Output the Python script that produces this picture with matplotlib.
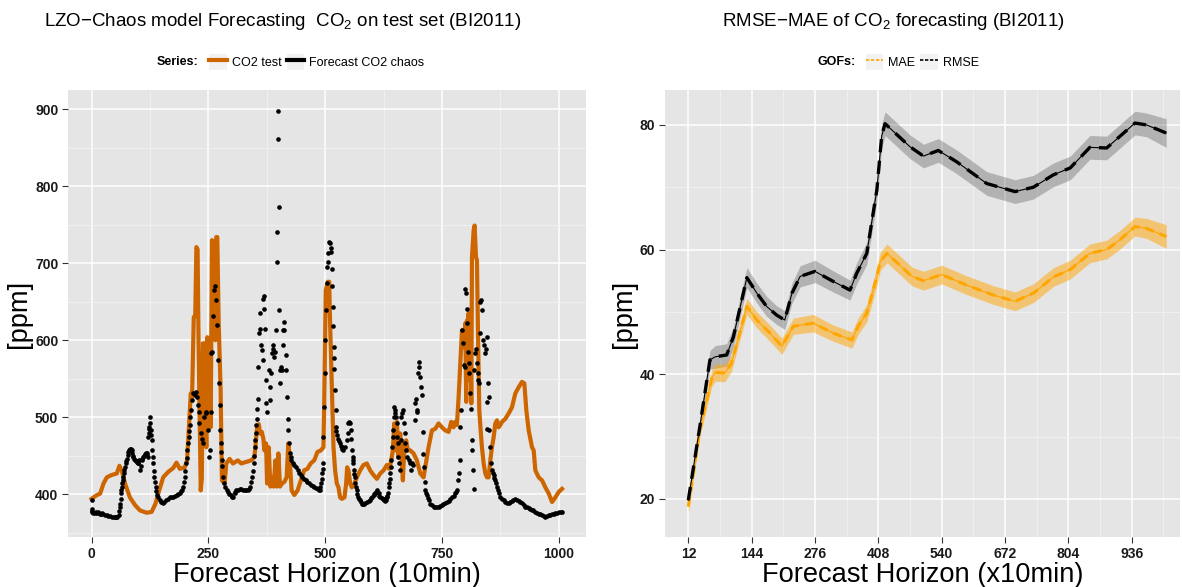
import matplotlib
matplotlib.use("Agg")
import matplotlib.pyplot as plt
from matplotlib.lines import Line2D
from matplotlib.patches import Patch
from matplotlib.legend_handler import HandlerTuple

plt.rcParams['font.family'] = ['Liberation Sans', 'DejaVu Sans']
plt.rcParams['mathtext.fontset'] = 'custom'
plt.rcParams['mathtext.rm'] = 'Liberation Sans'

# ---- left panel: CO2 test series (line) and chaos forecast (points)
test_x = [0, 9, 18.5, 25.6, 32.7, 43, 54, 59.7, 64.6, 71.7, 82, 93, 103.7, 118, 128.5, 137, 142.8, 153.4,
          164, 174.7, 181.8, 189, 199.6, 204.5, 208, 212.4, 215.2, 218.8, 222, 224.4, 227, 229, 231, 233.7,
          236, 238.6, 242.2, 244, 245.7, 247.9, 250, 252.8, 255, 257.8, 261, 263.5, 265, 267, 269.2, 272,
          276.3, 279.1, 284.8, 288.4, 295.5, 302.6, 313.2, 320.3, 331, 341.6, 348.7, 354.4, 358, 360.8,
          364.3, 367.9, 370, 373.6, 375.7, 379.3, 382.8, 386.4, 389.9, 393.5, 397, 399.9, 403.4, 407.7,
          412.6, 417.6, 421.2, 424, 428.3, 434, 441, 448, 455, 462, 469, 476.6, 483.7, 490.8, 496.4, 497.9,
          501.4, 505.7, 508.6, 510.7, 514.3, 517.9, 521.4, 525, 528.6, 532, 535.7, 541.4, 545, 547.1, 550,
          553.6, 557.1, 562.9, 567.9, 575, 582.1, 589.3, 596.4, 603.6, 610.7, 617.9, 625, 632.1, 637.1,
          641.4, 645, 647.9, 651.4, 653.6, 657.1, 660.7, 664.3, 666.4, 670, 673.6, 677.1, 682.1, 689.3,
          696.4, 703.6, 710.7, 715.7, 721.4, 728.6, 735.7, 742.9, 750, 757.1, 764.3, 770, 775, 778.6,
          782.1, 785.7, 789.3, 792.9, 796.4, 800, 802, 803.6, 805, 807.1, 808.6, 810.7, 812.9, 814.3,
          817.9, 820, 822.9, 825, 827.1, 830, 832.9, 835.7, 839.3, 842.9, 846.4, 850, 853.6, 857.1,
          860.7, 864.3, 867.9, 871.4, 875, 878.6, 885.7, 892.9, 900, 907.1, 914.3, 921.4, 926.4, 930.7,
          935.7, 942.9, 946.4, 950, 957.1, 964.3, 971.4, 978.6, 985.7, 992.9, 1000, 1007.1]
test_y = [394, 398, 401, 414, 422, 425, 427, 437, 431, 414, 396, 386, 379, 376, 377, 388, 401, 422,
          429, 434, 441, 433, 435, 444, 483, 531, 526, 630, 632, 721, 718, 600, 520, 405,
          420, 596, 596, 520, 461, 604, 560, 600, 487, 730, 728, 650, 600, 734, 734, 626,
          535, 418, 414, 440, 446, 440, 444, 440, 442, 444, 448, 487, 491, 479,
          481, 472, 457, 466, 414, 461, 410, 422, 410, 444, 410, 453, 410, 414,
          416, 422, 466, 448, 405, 399, 405, 418, 431, 433, 440, 444, 455, 457, 461, 513,
          665, 676, 676, 622, 544, 461, 431, 414, 409, 396, 394, 396, 414, 435, 431,
          414, 409, 414, 422, 431, 438, 440, 431, 425, 420, 427, 431, 438, 433,
          444, 457, 492, 457, 494, 448, 479, 440, 418, 466, 470, 457, 457, 453,
          444, 427, 422, 440, 461, 483, 485, 492, 487, 483, 481, 494, 487, 494,
          490, 526, 570, 613, 591, 622, 520, 626, 600, 635, 548, 613, 518, 708,
          743, 749, 708, 704, 613, 509, 483, 461, 440, 427, 422, 422, 444, 461,
          474, 492, 496, 487, 490, 494, 498, 505, 513, 531, 539, 546, 544, 509,
          483, 461, 457, 431, 422, 418, 409, 401, 390, 396, 403, 407]

chaos_x = [0, 0.5, 1, 4, 11, 18, 22, 29, 40, 50, 55, 58, 61, 63, 66, 68, 72, 75, 79, 82, 86, 89, 93, 97,
           100, 102, 104, 107, 111, 114, 118, 120, 121, 124, 125, 127, 129, 130, 132, 134, 137, 141, 146,
           153, 160, 168, 178, 189, 196, 200, 203, 205, 208, 210, 212, 215, 218, 221, 223, 225, 227, 229,
           231, 234, 236, 239, 241, 244, 246, 249, 251, 254, 255, 256, 258, 261, 262, 264, 266, 268, 270,
           272, 274, 276, 277, 279, 282, 286, 292, 298, 303, 306, 310, 317, 324, 334, 340, 344, 347, 349,
           352, 354, 356, 357, 359, 360, 361, 363, 364, 366, 367, 369, 369.5, 371, 373, 374, 376, 379, 381,
           383, 385, 386, 388, 389, 391, 393, 395, 396, 397.5, 398.5, 399, 400.5, 401.5, 403, 404, 405.5,
           407, 409, 410.5, 411, 413, 415.5, 417, 418, 420, 421, 423, 424, 428, 434, 441, 448, 455, 462,
           470, 477, 484, 489, 492, 494, 496, 496.5, 498, 499, 500, 501.5, 503, 504, 506, 507, 508.5,
           510.5, 513, 514, 515.7, 516.4, 517, 518.6, 520, 521.4, 522.5, 523.6, 525.7, 528.6, 532, 535.7,
           537, 539.3, 543, 546.4, 548, 550, 551.5, 553.6, 555.7, 556.4, 557, 558.6, 560, 561.4, 563,
           564.3, 568, 571.4, 575, 578.6, 582, 585.7, 593, 600, 603.6, 607, 610.7, 614.3, 618, 621, 625,
           628.6, 632, 634, 635.7, 638, 640, 641.4, 643, 644.3, 645.7, 646.5, 647, 648.6, 650, 651.4, 653,
           654.3, 655.7, 657, 658.6, 660, 661.4, 663, 664.3, 665.7, 668, 670, 671.4, 673.6, 675.7, 678.6,
           680.7, 683, 685.7, 688.6, 691.4, 693, 694.3, 695.7, 697, 698.6, 700, 701.4, 703.6, 705, 706.4,
           708.6, 710, 711.4, 713, 714.3, 718, 721.4, 728.6, 735.7, 743, 750, 757, 764.3, 771.4, 778.6,
           782, 784.3, 785.7, 788, 789.3, 791.4, 792.9, 795, 796.4, 798.6, 800, 801.4, 802.9, 804.3,
           805.7, 807.1, 808.6, 810, 811.4, 813.6, 815, 816.4, 817.9, 819.3, 821.4, 822.9, 825, 826.4,
           827.9, 829.3, 830.7, 832.1, 833.6, 835.7, 837.1, 839.3, 841.4, 844.3, 846.4, 847, 845.7, 848.6,
           850, 851.4, 853.6, 855, 857.1, 860.7, 864.3, 868, 871.4, 878.6, 885.7, 893, 900, 907, 914.3,
           921.4, 928.6, 935.7, 943, 950, 957, 964.3, 971.4, 978.6, 985.7, 993, 1000, 1007,
           # denser readings along the smooth stretches
           2, 7, 9, 14, 16, 20, 25, 33, 36, 44, 47, 52,
           59, 60, 62, 64, 65, 67, 69, 70, 73, 74, 77, 80, 84, 87, 88, 91, 95, 99, 105, 109, 112, 116, 119,
           122, 123, 126, 128, 131, 133, 135, 139, 143, 149, 156, 164, 172, 175, 183, 186, 192, 194, 198,
           201, 204, 207, 209, 211,
           278, 280, 284, 289, 295, 300, 308, 313, 320, 328, 331, 337, 342, 345, 348, 350, 353, 355,
           426, 431, 437, 444, 451, 458, 466, 473, 480, 486, 490, 493, 495,
           512, 519, 524, 530, 534,
           559, 562, 566, 569, 573, 577, 580, 584, 589, 596, 598, 605, 609, 612, 616, 623, 627, 630, 633,
           637, 639,
           716, 720, 725, 732, 739, 746, 753, 761, 768, 775, 780,
           859, 862, 866, 870, 875, 882, 889, 896, 903, 911, 918, 925, 932, 939, 946, 953, 961, 968, 975,
           982, 989, 996, 1004]
chaos_y = [393, 381, 378, 376, 376, 375, 376, 373, 372, 371, 371, 373, 388, 401, 414, 422, 435, 446, 455,
           459, 457, 448, 444, 442, 440, 444, 431, 444, 448, 452, 454, 448, 474, 487, 500, 483, 470, 457,
           440, 422, 410, 399, 392, 389, 392, 396, 398, 401, 410, 422, 440, 457, 474, 490, 509, 522, 531,
           529, 533, 526, 516, 507, 492, 479, 472, 466, 500, 506, 507, 483, 448, 457, 507, 583, 585, 632,
           665, 671, 652, 620, 574, 544, 516, 483, 466, 444, 422, 410, 403, 399, 396, 401, 405, 407, 406,
           405, 410, 422, 440, 462, 479, 498, 524, 565, 609, 635, 615, 594, 587, 574, 654, 658, 641, 615,
           548, 518, 507, 561, 539, 522, 557, 583, 594, 589, 578, 585, 613, 702, 741, 861, 898, 773, 639,
           561, 544, 565, 561, 594, 613, 624, 613, 581, 561, 526, 498, 483, 466, 453, 444, 438, 431, 425,
           420, 416, 412, 410, 407, 405, 414, 427, 440, 474, 513, 557, 600, 639, 674, 695, 713, 702, 728,
           726, 715, 693, 671, 643, 619, 591, 563, 535, 509, 487, 477, 472, 466, 461, 459, 457, 461, 470,
           479, 492, 494, 492, 483, 472, 457, 448, 440, 431, 422, 414, 405, 396, 392, 388, 387, 389, 391,
           396, 399, 401, 405, 401, 396, 395, 394, 391, 396, 401, 410, 420, 435, 444, 461, 474, 483, 500,
           513, 509, 505, 500, 492, 474, 466, 448, 440, 431, 470, 500, 505, 509, 492, 479, 466, 457, 448,
           444, 440, 431, 440, 438, 496, 518, 524, 507, 509, 557, 565, 572, 552, 539, 529, 481, 452, 435,
           416, 405, 399, 392, 386, 383, 384, 386, 389, 391, 396, 401, 405, 418, 427, 444, 487, 509, 613,
           596, 568, 565, 667, 661, 641, 622, 585, 570, 557, 531, 511, 470, 457, 431, 407, 561, 583, 589,
           570, 557, 548, 544, 609, 650, 652, 639, 600, 594, 583, 589, 604, 520, 485, 544, 526, 483, 462,
           440, 431, 425, 418, 410, 401, 394, 390, 389, 391, 394, 391, 389, 384, 382, 380, 377, 375, 373,
           371, 373, 374, 376, 377, 377,
           377, 376, 377, 377, 376, 375, 374, 373, 372, 371, 370, 371,
           378, 383, 394, 406, 410, 418, 427, 431, 440, 443, 451, 457, 459, 453, 450, 446, 443, 441, 437,
           446, 450, 453, 451, 480, 485, 492, 477, 448, 430, 416, 404, 396, 390, 390, 394, 397, 397, 399,
           400, 404, 406, 416, 430, 447, 466, 482, 500,
           455, 437, 415, 406, 400, 397, 403, 406, 407, 406, 405, 407, 416, 430, 450, 470, 490, 511,
           448, 441, 435, 428, 422, 418, 414, 411, 408, 406, 409, 420, 433,
           720, 577, 482, 469, 463,
           444, 426, 409, 400, 394, 390, 387, 388, 390, 393, 395, 400, 403, 403, 398, 394, 392, 393, 398,
           415, 428,
           402, 395, 388, 384, 383, 385, 387, 390, 394, 398, 403,
           428, 421, 414, 405, 397, 392, 389, 390, 392, 393, 390, 386, 383, 381, 379, 376, 374, 372, 372,
           373, 375, 376, 377]

# ---- right panel: goodness of fit along the horizon
rmse_x = [12, 36, 57, 68, 92, 106, 134, 155, 175, 196, 213, 228, 245, 276, 314, 349, 363, 384, 405, 415,
          422, 474, 502, 533, 571, 634, 693, 731, 773, 808, 849, 884, 912, 943, 967, 1008]
rmse = [19.8, 31.6, 42.3, 42.8, 43.1, 46, 55.5, 53.0, 50.9, 49.5, 48.7, 53, 55.7, 56.5, 54.9, 53.5, 56.2,
        59.4, 69.6, 78.2, 80.2, 76.5, 75.0, 75.9, 74.1, 70.6, 69.3, 70.0, 72.0, 73.1, 76.4, 76.3, 78.2,
        80.3, 80.0, 78.7]
rmse_se = [0.4, 1.0, 1.5, 1.8, 1.8, 1.6, 1.6, 1.6, 1.6, 1.5, 1.5, 1.6, 1.7, 1.8, 1.7, 1.6, 1.7, 1.8, 1.9,
           1.9, 1.9, 1.9, 1.9, 1.9, 1.9, 1.9, 1.9, 1.9, 1.9, 1.9, 1.9, 1.9, 1.9, 1.9, 1.9, 2.3]
mae_x = [12, 36, 61, 68, 88, 102, 134, 155, 182, 207, 231, 272, 314, 353, 366, 384, 405, 412, 426, 478,
         502, 540, 592, 648, 693, 731, 773, 808, 849, 884, 912, 943, 967, 1008]
mae = [18.8, 31.0, 39.4, 40.3, 40.2, 41.8, 50.9, 48.7, 46.6, 44.5, 47.7, 48.2, 46.6, 45.5, 47.7, 49.8,
       55.7, 58.1, 59.4, 55.7, 55.0, 56.0, 54.3, 52.7, 51.7, 53.0, 55.6, 56.8, 59.4, 60.0, 61.6, 63.7,
       63.4, 62.1]
mae_se = [1.2, 1.0, 1.3, 1.4, 1.4, 1.3, 1.3, 1.3, 1.3, 1.3, 1.3, 1.4, 1.3, 1.3, 1.3, 1.4, 1.5, 1.5, 1.5,
          1.5, 1.5, 1.5, 1.5, 1.5, 1.5, 1.5, 1.5, 1.5, 1.5, 1.5, 1.5, 1.5, 1.6, 1.9]
gof_ticks = [12, 144, 276, 408, 540, 672, 804, 936]

ORANGE_DARK = '#CD6600'
ORANGE = '#FFA500'
PANEL = '#E5E5E5'


def gg_style(ax):
    ax.set_facecolor(PANEL)
    for s in ax.spines.values():
        s.set_visible(False)
    ax.grid(which='major', color='white', lw=1.1)
    ax.grid(which='minor', color='#F2F2F2', lw=0.6)
    ax.set_axisbelow(True)
    ax.tick_params(which='major', length=4, width=0.8, color='#333333', pad=3,
                   labelsize=10, labelcolor='#1a1a1a')
    ax.tick_params(which='minor', length=0)
    for lab in ax.get_xticklabels() + ax.get_yticklabels():
        lab.set_fontweight('bold')


fig = plt.figure(figsize=(11.82, 5.87), dpi=100)
ax1 = fig.add_axes([68 / 1182, 1 - 537 / 587, 518 / 1182, 447 / 587])
ax2 = fig.add_axes([665 / 1182, 1 - 537 / 587, 515 / 1182, 447 / 587])

# left
ax1.plot(test_x, test_y, color=ORANGE_DARK, lw=3, solid_joinstyle='round', zorder=2)
ax1.scatter(chaos_x, chaos_y, s=11, color='black', lw=0, zorder=3)
ax1.set_xlim(-50.4, 1058.4)
ax1.set_ylim(344.5, 925)
ax1.set_xticks([0, 250, 500, 750, 1000])
ax1.set_xticks([125, 375, 625, 875], minor=True)
ax1.set_yticks([400, 500, 600, 700, 800, 900])
ax1.set_yticks([350, 450, 550, 650, 750, 850], minor=True)
gg_style(ax1)
ax1.set_xlabel('Forecast Horizon (10min)', fontsize=19.6, labelpad=1)
ax1.set_ylabel('[ppm]', fontsize=19.6, labelpad=2)

# right
ax2.fill_between(rmse_x, [a - b for a, b in zip(rmse, rmse_se)], [a + b for a, b in zip(rmse, rmse_se)],
                 color='black', alpha=0.22, lw=0, zorder=2)
ax2.fill_between(mae_x, [a - b for a, b in zip(mae, mae_se)], [a + b for a, b in zip(mae, mae_se)],
                 color=ORANGE, alpha=0.5, lw=0, zorder=2)
ax2.plot(mae_x, mae, color=ORANGE, lw=0.8, zorder=3)
ax2.plot(mae_x, mae, color=ORANGE, lw=2.2, dashes=(3, 2), zorder=3)
ax2.plot(rmse_x, rmse, color='black', lw=0.8, zorder=4)
ax2.plot(rmse_x, rmse, color='black', lw=2.4, dashes=(4, 2.5), zorder=4)
ax2.set_xlim(-36.6, 1036.8)
ax2.set_ylim(13.9, 85.6)
ax2.set_xticks(gof_ticks)
ax2.set_xticks([t + 66 for t in gof_ticks], minor=True)
ax2.set_yticks([20, 40, 60, 80])
ax2.set_yticks([30, 50, 70], minor=True)
gg_style(ax2)
ax2.set_xlabel('Forecast Horizon (x10min)', fontsize=19.6, labelpad=1)
ax2.set_ylabel('[ppm]', fontsize=19.6, labelpad=2)

# titles
fig.text(283 / 1182, 1 - 21 / 587, 'LZO\u2212Chaos model Forecasting  CO$_\\mathregular{2}$ on test set (BI2011)',
         ha='center', va='center', fontsize=13.5)
fig.text(893 / 1182, 1 - 21 / 587, 'RMSE\u2212MAE of CO$_\\mathregular{2}$ forecasting (BI2011)',
         ha='center', va='center', fontsize=13.5)


def gg_legend(x0, title, handles, labels):
    y = 1 - 62 / 587
    t = fig.text(x0 / 1182, y, title, ha='left', va='center', fontsize=9, fontweight='bold')
    fig.canvas.draw()
    bb = t.get_window_extent()
    boxed = [(Patch(facecolor='#F2F2F2', edgecolor='none'), h) for h in handles]
    fig.legend(boxed, labels, loc='center left', bbox_to_anchor=(bb.x1 / fig.bbox.width + 0.009, y),
               ncol=len(labels), frameon=False, fontsize=9, handlelength=1.4, handleheight=1.5,
               handletextpad=0.4, columnspacing=0.4, borderpad=0, borderaxespad=0,
               handler_map={tuple: HandlerTuple(ndivide=1)})


gg_legend(157, 'Series:',
          [Line2D([], [], color=ORANGE_DARK, lw=3), Line2D([], [], color='black', lw=3)],
          ['CO2 test', 'Forecast CO2 chaos'])
gg_legend(817, 'GOFs:',
          [Line2D([], [], color=ORANGE, lw=1.2, dashes=(2, 1)), Line2D([], [], color='black', lw=1.2, dashes=(2, 1))],
          ['MAE', 'RMSE'])

fig.savefig('out.png', dpi=100)
